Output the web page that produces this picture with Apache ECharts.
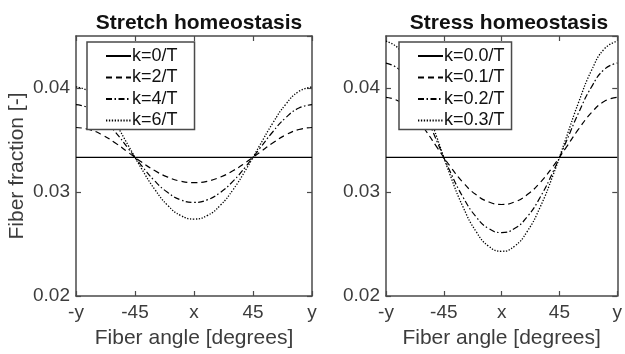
<!DOCTYPE html>
<html>
<head>
<meta charset="utf-8">
<script src="https://cdn.jsdelivr.net/npm/echarts@6/dist/echarts.min.js"></script>
<style>
html,body{margin:0;padding:0;background:#fff;}
#chart{width:625px;height:354px;}
</style>
</head>
<body>
<div id="chart"></div>
<script>
// ---- data ----
const angles = [-90,-80,-70,-60,-50,-40,-30,-20,-10,0,10,20,30,40,50,60,70,80,90];
const panelTitles = ['Stretch homeostasis', 'Stress homeostasis'];
const xTickValues = [-90, -45, 0, 45, 90];
const xTickLabels = ['-y', '-45', 'x', '45', 'y'];
const yTickValues = [0.02, 0.03, 0.04];
const yTickLabels = ['0.02', '0.03', '0.04'];
const xAxisTitle = 'Fiber angle [degrees]';
const yAxisTitle = 'Fiber fraction [-]';

const stretchNames = ['k=0/T', 'k=2/T', 'k=4/T', 'k=6/T'];
const stretchK0 = [0.03333,0.03333,0.03333,0.03333,0.03333,0.03333,0.03333,0.03333,0.03333,0.03333,0.03333,0.03333,0.03333,0.03333,0.03333,0.03333,0.03333,0.03333,0.03333];
const stretchK2 = [0.0362,0.03601,0.03549,0.03471,0.0338,0.03288,0.03206,0.03143,0.03103,0.0309,0.03103,0.03143,0.03206,0.03288,0.0338,0.03471,0.03549,0.03601,0.0362];
const stretchK4 = [0.0384,0.03807,0.03715,0.03577,0.03416,0.03253,0.03107,0.02995,0.02924,0.0290,0.02924,0.02995,0.03107,0.03253,0.03416,0.03577,0.03715,0.03807,0.0384];
const stretchK6 = [0.0401,0.03967,0.03844,0.03661,0.03445,0.03224,0.03026,0.02871,0.02773,0.0274,0.02773,0.02871,0.03026,0.03224,0.03445,0.03661,0.03844,0.03967,0.0401];

const stressNames = ['k=0.0/T', 'k=0.1/T', 'k=0.2/T', 'k=0.3/T'];
const stressK00 = [0.03333,0.03333,0.03333,0.03333,0.03333,0.03333,0.03333,0.03333,0.03333,0.03333,0.03333,0.03333,0.03333,0.03333,0.03333,0.03333,0.03333,0.03333,0.03333];
const stressK01 = [0.0391,0.03872,0.03764,0.03606,0.03424,0.03246,0.03091,0.02975,0.02904,0.0288,0.02904,0.02975,0.03091,0.03246,0.03424,0.03606,0.03764,0.03872,0.0391];
const stressK02 = [0.0424,0.0418,0.04011,0.03764,0.03477,0.03194,0.02949,0.02763,0.02648,0.0261,0.02648,0.02763,0.02949,0.03194,0.03477,0.03764,0.04011,0.0418,0.0424];
const stressK03 = [0.0445,0.04377,0.0417,0.03865,0.03512,0.03161,0.02855,0.02622,0.02478,0.0243,0.02478,0.02622,0.02855,0.03161,0.03512,0.03865,0.0417,0.04377,0.0445];

// ---- styles ----
const FONT = '"Liberation Sans", Arial, Helvetica, sans-serif';
const AXIS_COLOR = '#4a4a4a';
const LABEL_COLOR = '#3c3c3c';
const lineTypes = ['solid', [6, 4], [6, 2.5, 1.5, 2.5], [1.3, 1.6]];

const chart = echarts.init(document.getElementById('chart'));

const grids = [
  {left: 76, top: 36, width: 236, height: 260},
  {left: 386, top: 36, width: 236, height: 260}
];

function xLabel(v) {
  const i = xTickValues.indexOf(Math.round(v));
  return i >= 0 ? xTickLabels[i] : '';
}
function yLabel(v) {
  for (let i = 0; i < yTickValues.length; i++) {
    if (Math.abs(v - yTickValues[i]) < 1e-9) return yTickLabels[i];
  }
  return '';
}

const tickStyle = {show: true, inside: true, length: 5, lineStyle: {color: AXIS_COLOR, width: 1.2}};
const lineStyleAxis = {show: true, onZero: false, lineStyle: {color: AXIS_COLOR, width: 1.5}};

const xAxes = [], yAxes = [];
for (let g = 0; g < 2; g++) {
  xAxes.push({
    type: 'value', gridIndex: g, min: -90, max: 90, interval: 45, position: 'bottom',
    name: xAxisTitle, nameLocation: 'middle', nameGap: 32,
    nameTextStyle: {fontFamily: FONT, fontSize: 21, color: LABEL_COLOR},
    axisLine: lineStyleAxis, axisTick: tickStyle,
    axisLabel: {formatter: xLabel, fontFamily: FONT, fontSize: 19, color: LABEL_COLOR, margin: 7},
    splitLine: {show: false}
  });
  xAxes.push({
    type: 'value', gridIndex: g, min: -90, max: 90, interval: 45, position: 'top',
    axisLine: lineStyleAxis, axisTick: tickStyle,
    axisLabel: {show: false}, splitLine: {show: false}
  });
  yAxes.push({
    type: 'value', gridIndex: g, min: 0.02, max: 0.045, interval: 0.01, position: 'left',
    name: g === 0 ? yAxisTitle : '', nameLocation: 'middle', nameGap: 48,
    nameTextStyle: {fontFamily: FONT, fontSize: 21, color: LABEL_COLOR},
    axisLine: lineStyleAxis, axisTick: tickStyle,
    axisLabel: {formatter: yLabel, fontFamily: FONT, fontSize: 19, color: LABEL_COLOR, margin: 6, showMaxLabel: false},
    splitLine: {show: false}
  });
  yAxes.push({
    type: 'value', gridIndex: g, min: 0.02, max: 0.045, interval: 0.01, position: 'right',
    axisLine: lineStyleAxis, axisTick: tickStyle,
    axisLabel: {show: false}, splitLine: {show: false}
  });
}

function mkSeries(name, vals, g, idx) {
  return {
    name: name, type: 'line', xAxisIndex: g * 2, yAxisIndex: g * 2,
    data: angles.map((a, i) => [a, vals[i]]),
    showSymbol: false, symbol: 'none', smooth: true, animation: false,
    lineStyle: {color: '#000', width: idx === 3 ? 1.3 : 1.2, type: lineTypes[idx]},
    itemStyle: {color: '#000'}, z: 2
  };
}

const stretchVals = [stretchK0, stretchK2, stretchK4, stretchK6];
const stressVals = [stressK00, stressK01, stressK02, stressK03];
const series = [];
stretchNames.forEach((n, i) => series.push(mkSeries(n, stretchVals[i], 0, i)));
stressNames.forEach((n, i) => series.push(mkSeries(n, stressVals[i], 1, i)));

function mkLegend(names, left, pad) {
  return {
    data: names, orient: 'vertical', left: left, top: 42,
    itemWidth: 25, itemHeight: 14, itemGap: 3.5, selectedMode: false,
    padding: pad, backgroundColor: '#fff', borderColor: AXIS_COLOR, borderWidth: 1.5,
    textStyle: {fontFamily: FONT, fontSize: 18, lineHeight: 17, color: '#111', padding: [0, 0, 0, -4]},
    itemStyle: {opacity: 0}, z: 10
  };
}

chart.setOption({
  backgroundColor: '#fff',
  animation: false,
  title: panelTitles.map((t, g) => ({
    text: t, left: grids[g].left + grids[g].width / 2, top: 8, textAlign: 'center',
    textStyle: {fontFamily: FONT, fontSize: 21, fontWeight: 'bold', color: '#111'}
  })),
  grid: grids,
  xAxis: xAxes,
  yAxis: yAxes,
  legend: [mkLegend(stretchNames, 87, [5, 17, 0, 18]), mkLegend(stressNames, 399, [5, 7, 0, 18])],
  series: series
});
</script>
</body>
</html>
